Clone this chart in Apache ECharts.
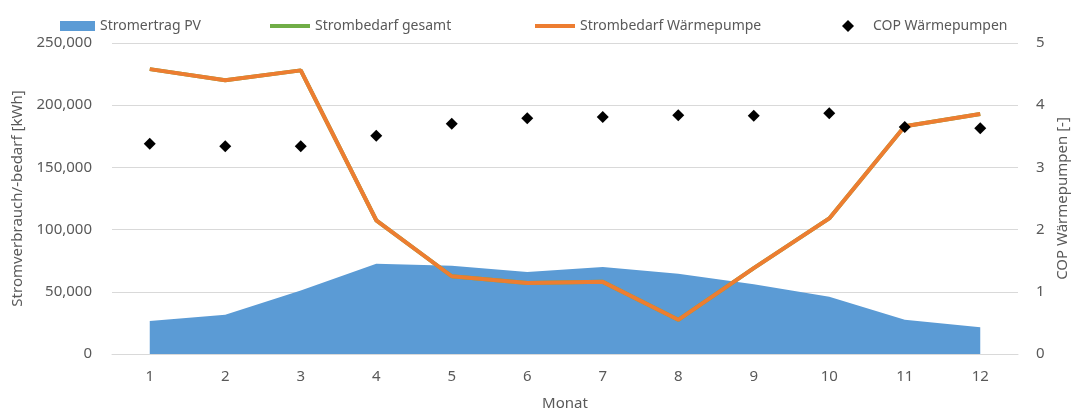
<!DOCTYPE html>
<html>
<head>
<meta charset="utf-8">
<script src="https://cdn.jsdelivr.net/npm/echarts@6/dist/echarts.min.js"></script>
<style>
  html, body { margin: 0; padding: 0; background: #fff; }
  #chart { width: 1072px; height: 414px; }
</style>
</head>
<body>
<div id="chart"></div>
<script>
// Monate
var months = ['1', '2', '3', '4', '5', '6', '7', '8', '9', '10', '11', '12'];
// Stromertrag PV [kWh]
var pvErtrag = [26500, 31500, 51000, 72500, 71000, 66000, 70000, 64500, 56000, 46000, 27500, 21500];
// Strombedarf gesamt [kWh] (liegt unter der Wärmepumpen-Linie)
var bedarfGesamt = [229000, 220000, 228000, 107500, 62500, 57000, 58000, 27500, 69000, 109000, 183000, 193000];
// Strombedarf Wärmepumpe [kWh]
var bedarfWP = [229000, 220000, 228000, 107500, 62500, 57000, 58000, 27500, 69000, 109000, 183000, 193000];
// COP Wärmepumpen [-]
var cop = [3.38, 3.34, 3.34, 3.51, 3.70, 3.79, 3.81, 3.84, 3.83, 3.87, 3.65, 3.63];

var font = 'Noto Sans';
var grey = '#595959';

var myChart = echarts.init(document.getElementById('chart'));
var option = {
    animation: false,
    textStyle: { fontFamily: font },
    legend: [
        { left: 55, top: 14, itemWidth: 35, itemHeight: 10, itemGap: 0,
          textStyle: { color: grey, fontSize: 14, fontFamily: font },
          data: [{ name: 'Stromertrag PV', icon: 'rect' }] },
        { left: 265, top: 14, itemWidth: 40, itemHeight: 4, itemGap: 0,
          textStyle: { color: grey, fontSize: 14, fontFamily: font },
          data: [{ name: 'Strombedarf gesamt', icon: 'rect' }] },
        { left: 530, top: 14, itemWidth: 40, itemHeight: 4, itemGap: 0,
          textStyle: { color: grey, fontSize: 14, fontFamily: font },
          data: [{ name: 'Strombedarf Wärmepumpe', icon: 'rect' }] },
        { left: 837, top: 14, itemWidth: 12, itemHeight: 12, itemGap: 0,
          textStyle: { color: grey, fontSize: 14, fontFamily: font, padding: [0, 0, 0, 14] },
          data: [{ name: 'COP Wärmepumpen', icon: 'diamond' }] }
    ],
    grid: { left: 112, right: 54, top: 43, bottom: 60, outerBoundsMode: 'none' },
    xAxis: {
        type: 'category',
        data: months,
        name: 'Monat',
        nameLocation: 'middle',
        nameGap: 42,
        nameTextStyle: { color: grey, fontSize: 15 },
        axisTick: { show: false },
        axisLine: { lineStyle: { color: '#D9D9D9' } },
        axisLabel: { color: grey, fontSize: 15, margin: 15 }
    },
    yAxis: [{
        type: 'value',
        min: 0, max: 250000, interval: 50000,
        name: 'Stromverbrauch/-bedarf [kWh]',
        nameLocation: 'middle',
        nameGap: 85,
        nameTextStyle: { color: grey, fontSize: 15 },
        axisLine: { show: false },
        axisTick: { show: false },
        splitLine: { lineStyle: { color: '#D9D9D9' } },
        axisLabel: {
            color: grey, fontSize: 15, margin: 20,
            formatter: function (v) { return v.toLocaleString('en-US'); }
        }
    }, {
        type: 'value',
        min: 0, max: 5, interval: 1,
        name: 'COP Wärmepumpen [-]',
        nameLocation: 'middle',
        nameGap: 34,
        nameTextStyle: { color: grey, fontSize: 15 },
        axisLine: { show: false },
        axisTick: { show: false },
        splitLine: { show: false },
        axisLabel: { color: grey, fontSize: 15, margin: 18 }
    }],
    series: [{
        name: 'Stromertrag PV',
        type: 'line',
        data: pvErtrag,
        symbol: 'none',
        lineStyle: { width: 0 },
        itemStyle: { color: '#5B9BD5' },
        areaStyle: { color: '#5B9BD5', opacity: 1 },
        z: 1
    }, {
        name: 'Strombedarf gesamt',
        type: 'line',
        data: bedarfGesamt,
        symbol: 'none',
        lineStyle: { width: 4, color: '#70AD47' },
        itemStyle: { color: '#70AD47' },
        z: 2
    }, {
        name: 'Strombedarf Wärmepumpe',
        type: 'line',
        data: bedarfWP,
        symbol: 'none',
        lineStyle: { width: 4, color: '#ED7D31' },
        itemStyle: { color: '#ED7D31' },
        z: 3
    }, {
        name: 'COP Wärmepumpen',
        type: 'scatter',
        yAxisIndex: 1,
        data: cop,
        symbol: 'diamond',
        symbolSize: 12,
        itemStyle: { color: '#000', opacity: 1 },
        z: 4
    }]
};
myChart.setOption(option);
</script>
</body>
</html>
